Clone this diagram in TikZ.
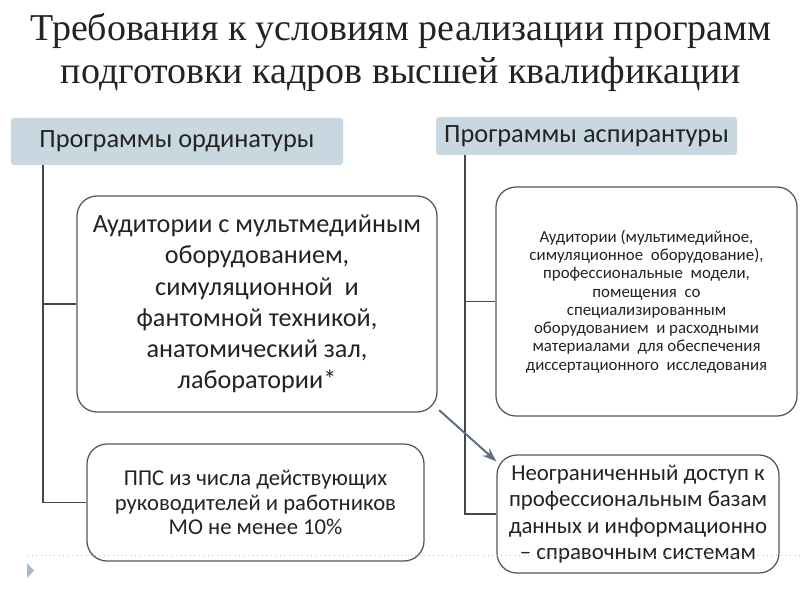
\documentclass[tikz,border=0pt]{standalone}
\usepackage{fontspec}
\setmainfont{Carlito}
\newfontfamily\titlefont{Liberation Serif}
\usetikzlibrary{arrows.meta}

\begin{document}
\begin{tikzpicture}[
  header_box/.style={fill=header_color, rounded corners=0.06cm, inner sep=0pt, align=center, text=text_color, font=\fontsize{15}{17}\selectfont},
  round_box/.style={draw=box_line_color, line width=0.025cm, fill=white, rounded corners=0.4cm, align=center, inner sep=0pt, text=text_color},
  tree_line/.style={draw=tree_line_color, line width=0.03cm}
]
\definecolor{header_color}{RGB}{201,215,225}
\definecolor{box_line_color}{RGB}{85,85,85}
\definecolor{tree_line_color}{RGB}{70,70,70}
\definecolor{arrow_color}{RGB}{95,110,130}
\definecolor{text_color}{RGB}{35,35,35}
\definecolor{title_color}{RGB}{35,35,35}
\definecolor{dots_color}{RGB}{190,195,200}
\definecolor{mark_color}{RGB}{170,185,200}

\useasboundingbox (0,0) rectangle (16,12);

\node[align=center, text=title_color, font=\titlefont\fontsize{21.6}{24.8}\selectfont] (title) at (8.02,10.95) {Требования к условиям реализации программ\\ подготовки кадров высшей квалификации};

\node[header_box, minimum width=6.64cm, minimum height=0.94cm] (hdr_ord) at (3.54,9.17) {Программы ординатуры};
\node[header_box, minimum width=6.02cm, minimum height=0.76cm] (hdr_asp) at (11.73,9.28) {Программы аспирантуры};

\node[round_box, minimum width=7.2cm, minimum height=4.32cm, font=\fontsize{14.9}{17.8}\selectfont] (ord_rooms) at (5.14,5.92) {Аудитории с мультмедийным\\ оборудованием,\\ симуляционной~ и\\ фантомной техникой,\\ анатомический зал,\\ лаборатории*};
\node[round_box, minimum width=6.74cm, minimum height=2.34cm, font=\fontsize{12.9}{14}\selectfont] (ord_staff) at (5.11,1.95) {ППС из числа действующих\\ руководителей и работников\\ МО не менее 10\%};

\node[round_box, minimum width=6.02cm, minimum height=4.58cm, font=\fontsize{9.6}{10.4}\selectfont] (asp_rooms) at (12.93,5.97) {Аудитории (мультимедийное,\\ симуляционное~ оборудование),\\ профессиональные~ модели,\\ помещения~ со\\ специализированным\\ оборудованием~ и расходными\\ материалами~ для обеспечения\\ диссертационного~ исследования};
\node[round_box, minimum width=5.64cm, minimum height=2.36cm, font=\fontsize{13}{15}\selectfont] (asp_access) at (12.76,1.72) {Неограниченный доступ к\\ профессиональным базам\\ данных и информационно\\ -- справочным системам};

\coordinate (trunk_ord) at (0.86,0);
\coordinate (trunk_asp) at (9.3,0);

\draw[tree_line] (hdr_ord.south -| trunk_ord) |- (ord_rooms.west);
\draw[tree_line] (hdr_ord.south -| trunk_ord) |- (ord_staff.west);
\draw[tree_line] (hdr_asp.south -| trunk_asp) |- (asp_rooms.west);
\draw[tree_line] (hdr_asp.south -| trunk_asp) |- (asp_access.west);

\draw[arrow_color, line width=0.04cm, -{Stealth[length=0.28cm, width=0.2cm]}] ([shift={(0.03,0.05)}]ord_rooms.south east) -- ([yshift=-0.14cm]asp_access.north west);

\draw[dots_color, line width=0.02cm, dotted] (0.54,0.9) -- (16,0.9);
\fill[mark_color] (0.54,0.74) -- (0.68,0.59) -- (0.54,0.44) -- cycle;

\end{tikzpicture}
\end{document}
